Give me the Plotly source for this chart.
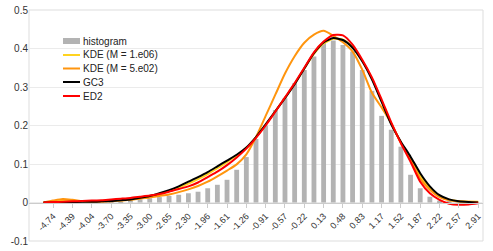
import plotly.graph_objects as go

categories = ["-4.91", "-4.74", "-4.57", "-4.39", "-4.22", "-4.04", "-3.87", "-3.70", "-3.52", "-3.35",
              "-3.18", "-3.00", "-2.83", "-2.65", "-2.48", "-2.30", "-2.13", "-1.96", "-1.78", "-1.61",
              "-1.44", "-1.26", "-1.09", "-0.91", "-0.74", "-0.57", "-0.39", "-0.22", "-0.05", "0.13",
              "0.30", "0.48", "0.65", "0.83", "1.00", "1.17", "1.35", "1.52", "1.69", "1.87",
              "2.04", "2.22", "2.39", "2.57", "2.74", "2.91"]

tick_labels = ["-4.74", "-4.39", "-4.04", "-3.70", "-3.35", "-3.00", "-2.65", "-2.30", "-1.96", "-1.61",
               "-1.26", "-0.91", "-0.57", "-0.22", "0.13", "0.48", "0.83", "1.17", "1.52", "1.87",
               "2.22", "2.57", "2.91"]
tick_categories = ["-4.74", "-4.39", "-4.04", "-3.70", "-3.35", "-3.00", "-2.65", "-2.30", "-1.96", "-1.61",
                   "-1.26", "-0.91", "-0.57", "-0.22", "0.13", "0.48", "0.83", "1.17", "1.52", "1.87",
                   "2.22", "2.57", "2.91"]

histogram = [0.000, 0.000, 0.001, 0.001, 0.001, 0.002, 0.002, 0.003, 0.004, 0.006,
             0.008, 0.011, 0.014, 0.017, 0.020, 0.024, 0.028, 0.037, 0.046, 0.059,
             0.085, 0.118, 0.165, 0.200, 0.240, 0.271, 0.310, 0.344, 0.379, 0.414,
             0.421, 0.409, 0.392, 0.344, 0.290, 0.225, 0.189, 0.145, 0.072, 0.037,
             0.015, 0.005, 0.002, 0.001, 0.000, 0.000]

kde_1e06 = [0.000, 0.003, 0.005, 0.004, 0.003, 0.003, 0.004, 0.005, 0.006, 0.008,
            0.011, 0.015, 0.021, 0.030, 0.039, 0.049, 0.061, 0.074, 0.089, 0.105,
            0.122, 0.142, 0.170, 0.202, 0.237, 0.272, 0.308, 0.348, 0.386, 0.413,
            0.425, 0.423, 0.403, 0.368, 0.322, 0.264, 0.205, 0.156, 0.113, 0.070,
            0.037, 0.016, 0.007, 0.003, 0.002, 0.002]

kde_5e02 = [0.000, 0.005, 0.009, 0.007, 0.004, 0.002, 0.002, 0.003, 0.005, 0.007,
            0.010, 0.013, 0.017, 0.021, 0.027, 0.034, 0.043, 0.054, 0.068, 0.083,
            0.099, 0.125, 0.170, 0.225, 0.280, 0.335, 0.380, 0.415, 0.436, 0.446,
            0.433, 0.416, 0.392, 0.345, 0.285, 0.247, 0.206, 0.155, 0.114, 0.062,
            0.033, 0.014, 0.006, 0.003, 0.002, 0.001]

gc3 = [0.000, 0.000, 0.001, 0.001, 0.002, 0.002, 0.003, 0.004, 0.006, 0.008,
       0.012, 0.017, 0.024, 0.032, 0.042, 0.054, 0.066, 0.079, 0.094, 0.109,
       0.124, 0.143, 0.170, 0.203, 0.237, 0.271, 0.307, 0.348, 0.388, 0.416,
       0.427, 0.422, 0.402, 0.367, 0.320, 0.262, 0.203, 0.158, 0.119, 0.076,
       0.042, 0.019, 0.008, 0.003, 0.001, 0.000]

ed2 = [0.000, 0.001, 0.002, 0.003, 0.004, 0.005, 0.006, 0.008, 0.010, 0.012,
       0.015, 0.018, 0.022, 0.028, 0.035, 0.042, 0.052, 0.066, 0.080, 0.097,
       0.117, 0.140, 0.168, 0.200, 0.236, 0.273, 0.310, 0.350, 0.390, 0.418,
       0.435, 0.434, 0.410, 0.371, 0.325, 0.268, 0.208, 0.154, 0.106, 0.054,
       0.024, 0.007, -0.003, -0.006, -0.005, -0.002]

series_names = ["histogram", "KDE (M = 1.e06)", "KDE (M = 5.e02)", "GC3", "ED2"]
series_colors = ["#b3b3b3", "#ffd320", "#ff950e", "#000000", "#ff0000"]

FONT = "Liberation Sans, Arial, sans-serif"

fig = go.Figure()
fig.add_trace(go.Bar(x=categories, y=histogram, name=series_names[0],
                     marker=dict(color=series_colors[0], line=dict(width=0))))
for name, vals, col in zip(series_names[1:], [kde_1e06, kde_5e02, gc3, ed2], series_colors[1:]):
    fig.add_trace(go.Scatter(x=categories, y=vals, name=name, mode="lines",
                             line=dict(color=col, width=2, shape="spline", smoothing=0.6)))

# plot area in window pixels: x 29..483, y 10..241
L, R, T, B = 29, 483, 10, 241
W, H = R - L, B - T
def px(x):
    return (x - L) / W
def py(y):
    return (B - y) / H

shapes = [dict(type="rect", xref="paper", yref="paper", x0=0, x1=1, y0=0, y1=1,
               line=dict(color="#dddddd", width=1), layer="below")]
annotations = []
leg_y = [41, 55, 68.5, 82, 96]
for k, (name, col) in enumerate(zip(series_names, series_colors)):
    yc = leg_y[k]
    if k == 0:
        shapes.append(dict(type="rect", xref="paper", yref="paper",
                           x0=px(63), x1=px(80), y0=py(yc + 3), y1=py(yc - 3),
                           fillcolor=col, line=dict(width=0)))
    else:
        shapes.append(dict(type="line", xref="paper", yref="paper",
                           x0=px(63), x1=px(80), y0=py(yc), y1=py(yc),
                           line=dict(color=col, width=2)))
    annotations.append(dict(xref="paper", yref="paper", x=px(81), y=py(yc),
                            text=name, showarrow=False, xanchor="left", yanchor="middle",
                            font=dict(family=FONT, size=10, color="#222222")))

fig.update_layout(
    width=493, height=251,
    margin=dict(l=L, r=493 - R, t=T, b=251 - B, autoexpand=False),
    paper_bgcolor="white", plot_bgcolor="white",
    showlegend=False,
    bargap=0.5,
    font=dict(family=FONT, size=10, color="#333333"),
    shapes=shapes,
    annotations=annotations,
    xaxis=dict(type="category", categoryorder="array", categoryarray=categories,
               range=[-1.5, 45.5], anchor="free", position=1 / 6, automargin=False,
               tickvals=tick_categories, ticktext=tick_labels, tickangle=-45,
               tickfont=dict(family=FONT, size=9, color="#333333"),
               showline=True, linecolor="#cccccc", linewidth=1,
               ticks="outside", ticklen=4, tickcolor="#cccccc",
               showgrid=False, zeroline=False),
    yaxis=dict(range=[-0.1, 0.5], tickvals=[-0.1, 0, 0.1, 0.2, 0.3, 0.4, 0.5],
               ticktext=["-0.1", "0", "0.1", "0.2", "0.3", "0.4", "0.5"], automargin=False,
               showgrid=True, gridcolor="#ebebeb", gridwidth=1, zeroline=False,
               showline=False, tickfont=dict(family=FONT, size=10, color="#333333")),
)

fig.write_html("out.html", config={"displayModeBar": False},
               post_script="document.body.style.margin='0px';")
